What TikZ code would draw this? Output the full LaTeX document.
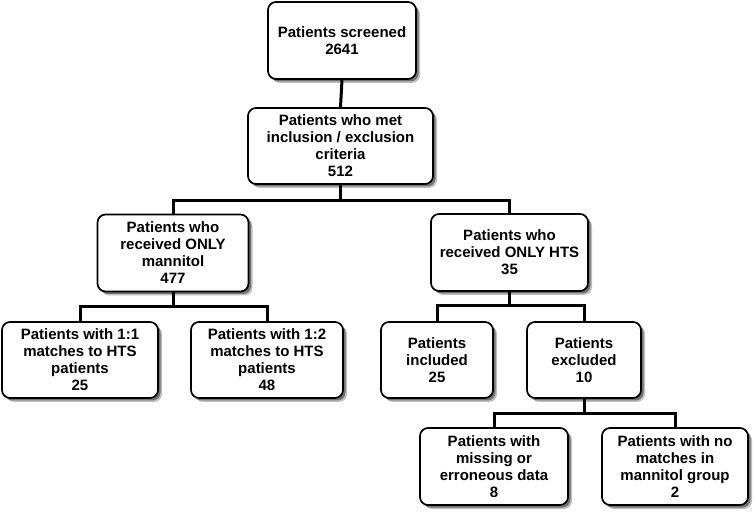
\documentclass[tikz,border=0pt]{standalone}
\usepackage{fontspec}
\setmainfont{Liberation Sans}
\usetikzlibrary{shadows}
\begin{document}
\begin{tikzpicture}[x=1pt,y=-1pt,
  box/.style={draw=black, line width=1.7pt, rounded corners=8pt, fill=white,
    align=center, inner sep=2pt,
    font=\fontsize{15}{17}\selectfont\bfseries,
    drop shadow={shadow xshift=4pt, shadow yshift=-4pt, opacity=0.25, fill=black},
    drop shadow={shadow xshift=2.5pt, shadow yshift=-2.5pt, opacity=0.4, fill=black}},
  link/.style={draw=black, line width=3pt, line join=miter}]
\useasboundingbox[fill=white] (0,0) rectangle (756,513);
\node[box, minimum width=148pt, minimum height=77pt] (b1) at (342,40.5) {Patients screened\\2641};
\node[box, minimum width=185pt, minimum height=76pt] (b2) at (340.5,146) {Patients who met\\inclusion / exclusion\\criteria\\512};
\node[box, minimum width=151pt, minimum height=77pt] (b3) at (173,253) {Patients who\\received ONLY\\mannitol\\477};
\node[box, minimum width=157pt, minimum height=77pt] (b4) at (509.5,252.5) {Patients who\\received ONLY HTS\\35};
\node[box, minimum width=156pt, minimum height=76pt] (b5) at (80,360) {Patients with 1:1\\matches to HTS\\patients\\25};
\node[box, minimum width=152pt, minimum height=76pt] (b6) at (267,360) {Patients with 1:2\\matches to HTS\\patients\\48};
\node[box, minimum width=112pt, minimum height=76pt] (b7) at (437,360) {Patients\\included\\25};
\node[box, minimum width=114pt, minimum height=76pt] (b8) at (584,360) {Patients\\excluded\\10};
\node[box, minimum width=148pt, minimum height=77pt] (b9) at (494,466.5) {Patients with\\missing or\\erroneous data\\8};
\node[box, minimum width=146pt, minimum height=77pt] (b10) at (675,466.5) {Patients with no\\matches in\\mannitol group\\2};
\draw[link] (b1.south) -- (b2.north);
\draw[link] (b2.south) -- ++(0,16) -| (b3.north);
\draw[link] (b2.south) ++(0,16) -| (b4.north);
\draw[link] (b3.south) -- ++(0,14) -| (b5.north);
\draw[link] (b3.south) ++(0,14) -| (b6.north);
\draw[link] (b4.south) -- ++(0,14) -| (b7.north);
\draw[link] (b4.south) ++(0,14) -| (b8.north);
\draw[link] (b8.south) -- ++(0,15) -| (b9.north);
\draw[link] (b8.south) ++(0,15) -| (b10.north);
\end{tikzpicture}
\end{document}
